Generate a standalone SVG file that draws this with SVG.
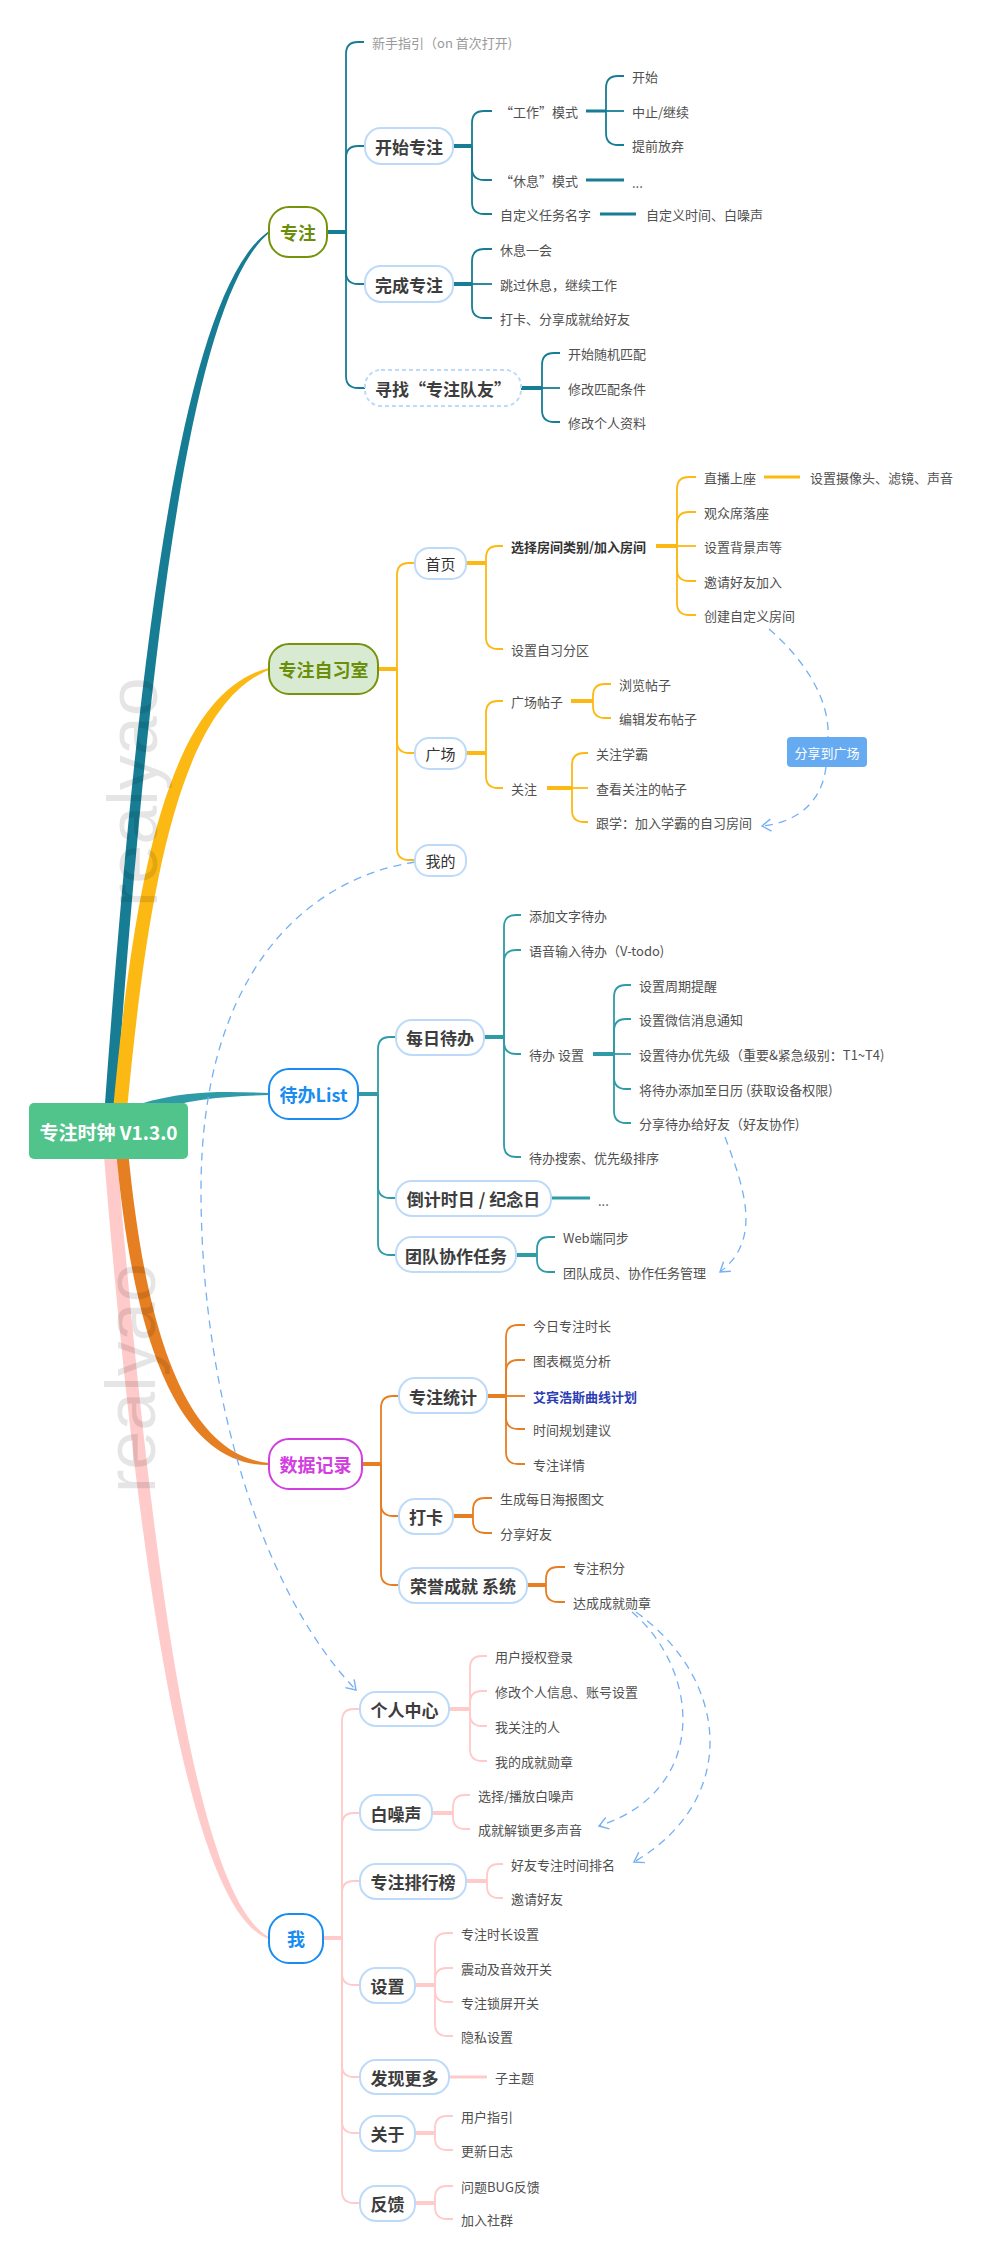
<svg xmlns="http://www.w3.org/2000/svg" width="988" height="2263" viewBox="0 0 988 2263">
<defs>
<style>
text{font-family:"Noto Sans CJK SC","Noto Sans",sans-serif;dominant-baseline:central}
.leaf{font-size:13px;fill:#505050}
.gray{font-size:13px;fill:#9a9a9a}
.lb{font-size:13px;fill:#333;font-weight:bold}
.sub{font-size:17px;font-weight:bold;fill:#3d3d3d;text-anchor:middle}
.sm{font-size:15px;fill:#333;text-anchor:middle}
.box{fill:#fff;stroke:#bddbf8;stroke-width:2}
.main{font-size:18px;font-weight:bold;text-anchor:middle}
.t1{fill:none;stroke:#177d94;stroke-width:1.8}
.t1s{fill:none;stroke:#177d94;stroke-width:4}
.y{fill:none;stroke:#fdb913;stroke-width:1.8}
.ys{fill:none;stroke:#fdb913;stroke-width:4}
.t2{fill:none;stroke:#2f9ba6;stroke-width:1.8}
.t2s{fill:none;stroke:#2f9ba6;stroke-width:4}
.o{fill:none;stroke:#e67e22;stroke-width:1.8}
.os{fill:none;stroke:#e67e22;stroke-width:4}
.p{fill:none;stroke:#ffcaca;stroke-width:1.8}
.ps{fill:none;stroke:#ffcaca;stroke-width:4}
.dash{fill:none;stroke:#74b0f4;stroke-width:1.3;stroke-dasharray:8 6}
.wm{font-family:"Liberation Sans",sans-serif;font-size:70px;fill:#000;fill-opacity:0.1;dominant-baseline:auto}
</style>
<marker id="arr" markerUnits="userSpaceOnUse" markerWidth="14" markerHeight="14" viewBox="-12 -7 14 14" refX="0" refY="0" orient="auto">
<path d="M-9,-6 L0,0 L-9,6" fill="none" stroke="#74b0f4" stroke-width="1.4"/>
</marker>
</defs>
<rect width="988" height="2263" fill="#fff"/>

<g id="connectors">
<!-- main branches -->
<path d="M104.5,1110 C134.5,700 176,296 269,231 L269,233 C184,304 145.5,700 115.5,1110 Z" fill="#177d94"/>
<path d="M113,1110 C133,900 163,694 269,668 L269,670 C177,706 147,900 127,1110 Z" fill="#fdb913"/>
<path d="M140,1104 C190,1089 230,1092 269,1093 L269,1095 C230,1096 190,1098 146,1113 Z" fill="#2f9ba6"/>
<path d="M103.5,1150 C128.5,1455 176,1908 269,1939 L269,1937 C184,1892 141.5,1445 116.5,1150 Z" fill="#ffcaca"/>
<path d="M116,1150 C130,1305 166,1466 269,1465 L269,1463 C174,1454 142,1295 128,1150 Z" fill="#e67e22"/>

<!-- 专注 -->
<path class="t1s" d="M327,232 L346,232"/>
<path class="t1" d="M346,232 L346,54 Q346,42 358,42 L364,42"/>
<path class="t1" d="M346,232 L346,158 Q346,146 358,146 L365,146"/>
<path class="t1" d="M346,232 L346,272 Q346,284 358,284 L365,284"/>
<path class="t1" d="M346,232 L346,376 Q346,388 358,388 L365,388"/>
<path class="t1s" d="M453,146 L472,146"/>
<path class="t1" d="M472,146 L472,123 Q472,111 484,111 L492,111"/>
<path class="t1" d="M472,146 L472,168 Q472,180 484,180 L492,180"/>
<path class="t1" d="M472,146 L472,202 Q472,214 484,214 L492,214"/>
<path class="t1s" d="M586,111 L606,111" style="stroke-width:3"/>
<path class="t1" d="M606,111 L606,88 Q606,76 618,76 L624,76"/>
<path class="t1" d="M606,111 L624,111"/>
<path class="t1" d="M606,111 L606,133 Q606,145 618,145 L624,145"/>
<path class="t1s" d="M586,180 L624,180" style="stroke-width:3"/>
<path class="t1s" d="M600,214 L636,214" style="stroke-width:3"/>
<path class="t1s" d="M453,284 L472,284"/>
<path class="t1" d="M472,284 L472,261 Q472,249 484,249 L492,249"/>
<path class="t1" d="M472,284 L492,284"/>
<path class="t1" d="M472,284 L472,306 Q472,318 484,318 L492,318"/>
<path class="t1s" d="M521,388 L542,388"/>
<path class="t1" d="M542,388 L542,365 Q542,353 554,353 L560,353"/>
<path class="t1" d="M542,388 L560,388"/>
<path class="t1" d="M542,388 L542,410 Q542,422 554,422 L560,422"/>

<!-- 专注自习室 -->
<path class="ys" d="M378,669 L397,669"/>
<path class="y" d="M397,669 L397,575 Q397,563 409,563 L415,563"/>
<path class="y" d="M397,669 L397,741 Q397,753 409,753 L415,753"/>
<path class="y" d="M397,669 L397,848 Q397,860 409,860 L415,860"/>
<path class="ys" d="M466,563 L486,563"/>
<path class="y" d="M486,563 L486,558 Q486,546 498,546 L503,546"/>
<path class="y" d="M486,563 L486,637 Q486,649 498,649 L503,649"/>
<path class="ys" d="M656,546 L677,546"/>
<path class="y" d="M677,546 L677,489 Q677,477 689,477 L696,477"/>
<path class="y" d="M677,546 L677,524 Q677,512 689,512 L696,512"/>
<path class="y" d="M677,546 L696,546"/>
<path class="y" d="M677,546 L677,569 Q677,581 689,581 L696,581"/>
<path class="y" d="M677,546 L677,603 Q677,615 689,615 L696,615"/>
<path class="ys" d="M764,477 L800,477" style="stroke-width:3"/>
<path class="ys" d="M466,753 L486,753"/>
<path class="y" d="M486,753 L486,713 Q486,701 498,701 L503,701"/>
<path class="y" d="M486,753 L486,776 Q486,788 498,788 L503,788"/>
<path class="ys" d="M571,701 L593,701"/>
<path class="y" d="M593,701 L593,696 Q593,684 605,684 L611,684"/>
<path class="y" d="M593,701 L593,706 Q593,718 605,718 L611,718"/>
<path class="ys" d="M547,788 L572,788"/>
<path class="y" d="M572,788 L572,765 Q572,753 584,753 L588,753"/>
<path class="y" d="M572,788 L588,788"/>
<path class="y" d="M572,788 L572,810 Q572,822 584,822 L588,822"/>

<!-- 待办List -->
<path class="t2s" d="M358,1094 L378,1094"/>
<path class="t2" d="M378,1094 L378,1049 Q378,1037 390,1037 L396,1037"/>
<path class="t2" d="M378,1094 L378,1186 Q378,1198 390,1198 L396,1198"/>
<path class="t2" d="M378,1094 L378,1243 Q378,1255 390,1255 L396,1255"/>
<path class="t2s" d="M484,1037 L504,1037"/>
<path class="t2" d="M504,1037 L504,927 Q504,915 516,915 L521,915"/>
<path class="t2" d="M504,1037 L504,962 Q504,950 516,950 L521,950"/>
<path class="t2" d="M504,1037 L504,1042 Q504,1054 516,1054 L521,1054"/>
<path class="t2" d="M504,1037 L504,1145 Q504,1157 516,1157 L521,1157"/>
<path class="t2s" d="M593,1054 L614,1054"/>
<path class="t2" d="M614,1054 L614,997 Q614,985 626,985 L631,985"/>
<path class="t2" d="M614,1054 L614,1031 Q614,1019 626,1019 L631,1019"/>
<path class="t2" d="M614,1054 L631,1054"/>
<path class="t2" d="M614,1054 L614,1077 Q614,1089 626,1089 L631,1089"/>
<path class="t2" d="M614,1054 L614,1111 Q614,1123 626,1123 L631,1123"/>
<path class="t2s" d="M551,1198 L590,1198" style="stroke-width:3"/>
<path class="t2s" d="M516,1255 L537,1255"/>
<path class="t2" d="M537,1255 L537,1249 Q537,1237 549,1237 L555,1237"/>
<path class="t2" d="M537,1255 L537,1260 Q537,1272 549,1272 L555,1272"/>

<!-- 数据记录 -->
<path class="os" d="M362,1464 L381,1464"/>
<path class="o" d="M381,1464 L381,1408 Q381,1396 393,1396 L399,1396"/>
<path class="o" d="M381,1464 L381,1504 Q381,1516 393,1516 L399,1516"/>
<path class="o" d="M381,1464 L381,1573 Q381,1585 393,1585 L399,1585"/>
<path class="os" d="M487,1396 L506,1396"/>
<path class="o" d="M506,1396 L506,1337 Q506,1325 518,1325 L525,1325"/>
<path class="o" d="M506,1396 L506,1372 Q506,1360 518,1360 L525,1360"/>
<path class="o" d="M506,1396 L525,1396"/>
<path class="o" d="M506,1396 L506,1417 Q506,1429 518,1429 L525,1429"/>
<path class="o" d="M506,1396 L506,1452 Q506,1464 518,1464 L525,1464"/>
<path class="os" d="M453,1516 L473,1516"/>
<path class="o" d="M473,1516 L473,1510 Q473,1498 485,1498 L492,1498"/>
<path class="o" d="M473,1516 L473,1521 Q473,1533 485,1533 L492,1533"/>
<path class="os" d="M527,1585 L546,1585"/>
<path class="o" d="M546,1585 L546,1579 Q546,1567 558,1567 L565,1567"/>
<path class="o" d="M546,1585 L546,1590 Q546,1602 558,1602 L565,1602"/>

<!-- 我 -->
<path class="ps" d="M323,1938 L342,1938"/>
<path class="p" d="M342,1938 L342,1721 Q342,1709 354,1709 L360,1709"/>
<path class="p" d="M342,1938 L342,1825 Q342,1813 354,1813 L360,1813"/>
<path class="p" d="M342,1938 L342,1893 Q342,1881 354,1881 L360,1881"/>
<path class="p" d="M342,1938 L342,1973 Q342,1985 354,1985 L360,1985"/>
<path class="p" d="M342,1938 L342,2065 Q342,2077 354,2077 L360,2077"/>
<path class="p" d="M342,1938 L342,2121 Q342,2133 354,2133 L360,2133"/>
<path class="p" d="M342,1938 L342,2191 Q342,2203 354,2203 L360,2203"/>
<path class="ps" d="M449,1709 L470,1709"/>
<path class="p" d="M470,1709 L470,1668 Q470,1656 482,1656 L487,1656"/>
<path class="p" d="M470,1709 L470,1703 Q470,1691 482,1691 L487,1691"/>
<path class="p" d="M470,1709 L470,1714 Q470,1726 482,1726 L487,1726"/>
<path class="p" d="M470,1709 L470,1749 Q470,1761 482,1761 L487,1761"/>
<path class="ps" d="M432,1813 L453,1813"/>
<path class="p" d="M453,1813 L453,1807 Q453,1795 465,1795 L470,1795"/>
<path class="p" d="M453,1813 L453,1817 Q453,1829 465,1829 L470,1829"/>
<path class="ps" d="M466,1881 L487,1881"/>
<path class="p" d="M487,1881 L487,1876 Q487,1864 499,1864 L503,1864"/>
<path class="p" d="M487,1881 L487,1886 Q487,1898 499,1898 L503,1898"/>
<path class="ps" d="M415,1985 L435,1985"/>
<path class="p" d="M435,1985 L435,1945 Q435,1933 447,1933 L453,1933"/>
<path class="p" d="M435,1985 L435,1980 Q435,1968 447,1968 L453,1968"/>
<path class="p" d="M435,1985 L435,1990 Q435,2002 447,2002 L453,2002"/>
<path class="p" d="M435,1985 L435,2024 Q435,2036 447,2036 L453,2036"/>
<path class="ps" d="M449,2077 L487,2077" style="stroke-width:3"/>
<path class="ps" d="M415,2133 L435,2133"/>
<path class="p" d="M435,2133 L435,2128 Q435,2116 447,2116 L453,2116"/>
<path class="p" d="M435,2133 L435,2138 Q435,2150 447,2150 L453,2150"/>
<path class="ps" d="M415,2203 L435,2203"/>
<path class="p" d="M435,2203 L435,2198 Q435,2186 447,2186 L453,2186"/>
<path class="p" d="M435,2203 L435,2207 Q435,2219 447,2219 L453,2219"/>

<!-- dashed relations -->
<path class="dash" d="M769,629 C805,660 830,700 828,737"/>
<path class="dash" d="M826,767 C822,800 800,822 762,826" marker-end="url(#arr)"/>
<path class="dash" d="M725,1137 C745,1190 762,1240 720,1272" marker-end="url(#arr)"/>
<path class="dash" d="M415,862 C300,880 201,980 201,1190 C201,1390 260,1590 356,1690" marker-end="url(#arr)"/>
<path class="dash" d="M632,1612 C700,1670 710,1790 599,1826" marker-end="url(#arr)"/>
<path class="dash" d="M636,1612 C730,1680 740,1800 634,1862" marker-end="url(#arr)"/>
</g>

<g id="root">
<rect x="29" y="1103" width="159" height="56" rx="5" fill="#51c48c"/>
<text x="108.5" y="1131" style="font-size:19px;font-weight:bold;fill:#fff;text-anchor:middle">专注时钟 V1.3.0</text>
</g>

<g id="n-zhuanzhu">
<rect x="269" y="207" width="58" height="50" rx="20" fill="#fff" stroke="#76940b" stroke-width="2"/>
<text class="main" x="298" y="232" fill="#6a8e08">专注</text>
</g>
<g id="n-xinshou"><text class="gray" x="372" y="42">新手指引（on 首次打开)</text></g>
<g id="n-kaishi">
<rect class="box" x="365" y="128" width="88" height="36" rx="16"/>
<text class="sub" x="409" y="146">开始专注</text>
</g>
<g id="n-gongzuo"><text class="leaf" x="500" y="111">“工作”模式</text></g>
<g id="n-ks1"><text class="leaf" x="632" y="76">开始</text></g>
<g id="n-ks2"><text class="leaf" x="632" y="111">中止/继续</text></g>
<g id="n-ks3"><text class="leaf" x="632" y="145">提前放弃</text></g>
<g id="n-xiuxi"><text class="leaf" x="500" y="180">“休息”模式</text></g>
<g id="n-xiuxi1"><text class="leaf" x="632" y="182">...</text></g>
<g id="n-zdy"><text class="leaf" x="500" y="214">自定义任务名字</text></g>
<g id="n-zdy1"><text class="leaf" x="646" y="214">自定义时间、白噪声</text></g>
<g id="n-wancheng">
<rect class="box" x="365" y="266" width="88" height="36" rx="16"/>
<text class="sub" x="409" y="284">完成专注</text>
</g>
<g id="n-wc1"><text class="leaf" x="500" y="249">休息一会</text></g>
<g id="n-wc2"><text class="leaf" x="500" y="284">跳过休息，继续工作</text></g>
<g id="n-wc3"><text class="leaf" x="500" y="318">打卡、分享成就给好友</text></g>
<g id="n-xunzhao">
<rect class="box" x="365" y="370" width="156" height="36" rx="16" stroke-dasharray="4 3"/>
<text class="sub" x="443" y="388">寻找“专注队友”</text>
</g>
<g id="n-xz1"><text class="leaf" x="568" y="353">开始随机匹配</text></g>
<g id="n-xz2"><text class="leaf" x="568" y="388">修改匹配条件</text></g>
<g id="n-xz3"><text class="leaf" x="568" y="422">修改个人资料</text></g>

<g id="n-zixishi">
<rect x="269" y="644" width="109" height="50" rx="20" fill="#d9ead3" stroke="#76940b" stroke-width="2"/>
<text class="main" x="323.5" y="669" fill="#6a8e08">专注自习室</text>
</g>
<g id="n-shouye">
<rect class="box" x="415" y="548" width="51" height="31" rx="14"/>
<text class="sm" x="440.5" y="563">首页</text>
</g>
<g id="n-xuanze"><text class="lb" x="511" y="546">选择房间类别/加入房间</text></g>
<g id="n-zb"><text class="leaf" x="704" y="477">直播上座</text></g>
<g id="n-zb1"><text class="leaf" x="810" y="477">设置摄像头、滤镜、声音</text></g>
<g id="n-gz"><text class="leaf" x="704" y="512">观众席落座</text></g>
<g id="n-bj"><text class="leaf" x="704" y="546">设置背景声等</text></g>
<g id="n-yq"><text class="leaf" x="704" y="581">邀请好友加入</text></g>
<g id="n-cj"><text class="leaf" x="704" y="615">创建自定义房间</text></g>
<g id="n-fenqu"><text class="leaf" x="511" y="649">设置自习分区</text></g>
<g id="n-guangchang">
<rect class="box" x="415" y="738" width="51" height="31" rx="14"/>
<text class="sm" x="440.5" y="753">广场</text>
</g>
<g id="n-tiezi"><text class="leaf" x="511" y="701">广场帖子</text></g>
<g id="n-tz1"><text class="leaf" x="619" y="684">浏览帖子</text></g>
<g id="n-tz2"><text class="leaf" x="619" y="718">编辑发布帖子</text></g>
<g id="n-guanzhu"><text class="leaf" x="511" y="788">关注</text></g>
<g id="n-gz1"><text class="leaf" x="596" y="753">关注学霸</text></g>
<g id="n-gz2"><text class="leaf" x="596" y="788">查看关注的帖子</text></g>
<g id="n-gz3"><text class="leaf" x="596" y="822">跟学：加入学霸的自习房间</text></g>
<g id="n-wode">
<rect class="box" x="415" y="845" width="51" height="31" rx="14"/>
<text class="sm" x="440.5" y="860">我的</text>
</g>
<g id="n-fenxiang">
<rect x="787" y="737" width="80" height="30" rx="4" fill="#66aaf2"/>
<text x="827" y="752" style="font-size:13px;fill:#fff;text-anchor:middle">分享到广场</text>
</g>

<g id="n-daiban">
<rect x="269" y="1069" width="89" height="50" rx="20" fill="#fff" stroke="#1a8cf0" stroke-width="2"/>
<text class="main" x="313.5" y="1094" fill="#1a8cf0">待办List</text>
</g>
<g id="n-meiri">
<rect class="box" x="396" y="1020" width="88" height="35" rx="16"/>
<text class="sub" x="440" y="1037">每日待办</text>
</g>
<g id="n-md1"><text class="leaf" x="529" y="915">添加文字待办</text></g>
<g id="n-md2"><text class="leaf" x="529" y="950">语音输入待办（V-todo)</text></g>
<g id="n-md3"><text class="leaf" x="529" y="1054">待办 设置</text></g>
<g id="n-sz1"><text class="leaf" x="639" y="985">设置周期提醒</text></g>
<g id="n-sz2"><text class="leaf" x="639" y="1019">设置微信消息通知</text></g>
<g id="n-sz3"><text class="leaf" x="639" y="1054">设置待办优先级（重要&amp;紧急级别：T1~T4)</text></g>
<g id="n-sz4"><text class="leaf" x="639" y="1089">将待办添加至日历 (获取设备权限)</text></g>
<g id="n-sz5"><text class="leaf" x="639" y="1123">分享待办给好友（好友协作)</text></g>
<g id="n-md4"><text class="leaf" x="529" y="1157">待办搜索、优先级排序</text></g>
<g id="n-daojishi">
<rect class="box" x="396" y="1181" width="155" height="35" rx="16"/>
<text class="sub" x="473.5" y="1198">倒计时日 / 纪念日</text>
</g>
<g id="n-djs1"><text class="leaf" x="598" y="1200">...</text></g>
<g id="n-tuandui">
<rect class="box" x="396" y="1237" width="120" height="35" rx="16"/>
<text class="sub" x="456" y="1255">团队协作任务</text>
</g>
<g id="n-td1"><text class="leaf" x="563" y="1237">Web端同步</text></g>
<g id="n-td2"><text class="leaf" x="563" y="1272">团队成员、协作任务管理</text></g>

<g id="n-shuju">
<rect x="269" y="1439" width="93" height="50" rx="20" fill="#fff" stroke="#d23ee0" stroke-width="2"/>
<text class="main" x="315.5" y="1464" fill="#d23ee0">数据记录</text>
</g>
<g id="n-tongji">
<rect class="box" x="399" y="1378" width="88" height="35" rx="16"/>
<text class="sub" x="443" y="1396">专注统计</text>
</g>
<g id="n-tj1"><text class="leaf" x="533" y="1325">今日专注时长</text></g>
<g id="n-tj2"><text class="leaf" x="533" y="1360">图表概览分析</text></g>
<g id="n-tj3"><text x="533" y="1396" style="font-size:13px;font-weight:bold;fill:#2b3db5">艾宾浩斯曲线计划</text></g>
<g id="n-tj4"><text class="leaf" x="533" y="1429">时间规划建议</text></g>
<g id="n-tj5"><text class="leaf" x="533" y="1464">专注详情</text></g>
<g id="n-daka">
<rect class="box" x="399" y="1499" width="54" height="35" rx="16"/>
<text class="sub" x="426" y="1516">打卡</text>
</g>
<g id="n-dk1"><text class="leaf" x="500" y="1498">生成每日海报图文</text></g>
<g id="n-dk2"><text class="leaf" x="500" y="1533">分享好友</text></g>
<g id="n-rongyu">
<rect class="box" x="399" y="1568" width="128" height="35" rx="16"/>
<text class="sub" x="463" y="1585">荣誉成就 系统</text>
</g>
<g id="n-ry1"><text class="leaf" x="573" y="1567">专注积分</text></g>
<g id="n-ry2"><text class="leaf" x="573" y="1602">达成成就勋章</text></g>

<g id="n-wo">
<rect x="269" y="1914" width="54" height="49" rx="20" fill="#fff" stroke="#1a8cf0" stroke-width="2"/>
<text class="main" x="296" y="1938" fill="#1a8cf0">我</text>
</g>
<g id="n-geren">
<rect class="box" x="360" y="1692" width="89" height="34" rx="16"/>
<text class="sub" x="404.5" y="1709">个人中心</text>
</g>
<g id="n-gr1"><text class="leaf" x="495" y="1656">用户授权登录</text></g>
<g id="n-gr2"><text class="leaf" x="495" y="1691">修改个人信息、账号设置</text></g>
<g id="n-gr3"><text class="leaf" x="495" y="1726">我关注的人</text></g>
<g id="n-gr4"><text class="leaf" x="495" y="1761">我的成就勋章</text></g>
<g id="n-baizao">
<rect class="box" x="360" y="1795" width="72" height="35" rx="16"/>
<text class="sub" x="396" y="1813">白噪声</text>
</g>
<g id="n-bz1"><text class="leaf" x="478" y="1795">选择/播放白噪声</text></g>
<g id="n-bz2"><text class="leaf" x="478" y="1829">成就解锁更多声音</text></g>
<g id="n-paihang">
<rect class="box" x="360" y="1864" width="106" height="35" rx="16"/>
<text class="sub" x="413" y="1881">专注排行榜</text>
</g>
<g id="n-ph1"><text class="leaf" x="511" y="1864">好友专注时间排名</text></g>
<g id="n-ph2"><text class="leaf" x="511" y="1898">邀请好友</text></g>
<g id="n-shezhi">
<rect class="box" x="360" y="1968" width="55" height="35" rx="16"/>
<text class="sub" x="387.5" y="1985">设置</text>
</g>
<g id="n-sz-1"><text class="leaf" x="461" y="1933">专注时长设置</text></g>
<g id="n-sz-2"><text class="leaf" x="461" y="1968">震动及音效开关</text></g>
<g id="n-sz-3"><text class="leaf" x="461" y="2002">专注锁屏开关</text></g>
<g id="n-sz-4"><text class="leaf" x="461" y="2036">隐私设置</text></g>
<g id="n-faxian">
<rect class="box" x="360" y="2060" width="89" height="34" rx="16"/>
<text class="sub" x="404.5" y="2077">发现更多</text>
</g>
<g id="n-fx1"><text class="leaf" x="495" y="2077">子主题</text></g>
<g id="n-guanyu">
<rect class="box" x="360" y="2116" width="55" height="35" rx="16"/>
<text class="sub" x="387.5" y="2133">关于</text>
</g>
<g id="n-gy1"><text class="leaf" x="461" y="2116">用户指引</text></g>
<g id="n-gy2"><text class="leaf" x="461" y="2150">更新日志</text></g>
<g id="n-fankui">
<rect class="box" x="360" y="2186" width="55" height="35" rx="16"/>
<text class="sub" x="387.5" y="2203">反馈</text>
</g>
<g id="n-fk1"><text class="leaf" x="461" y="2186">问题BUG反馈</text></g>
<g id="n-fk2"><text class="leaf" x="461" y="2219">加入社群</text></g>

<g id="watermark">
<text class="wm" transform="translate(157,907) rotate(-90)">realyao</text>
<text class="wm" transform="translate(155,1493) rotate(-90)">realyao</text>
</g>
</svg>
